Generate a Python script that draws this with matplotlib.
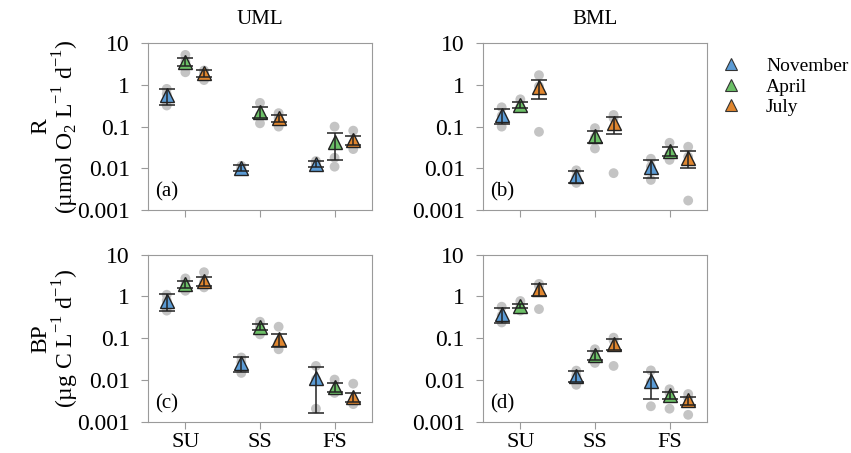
import matplotlib
matplotlib.use("Agg")
import matplotlib.pyplot as plt
import numpy as np
from matplotlib.lines import Line2D

plt.rcParams['font.family'] = 'serif'
plt.rcParams['font.serif'] = ['Liberation Serif', 'Times New Roman', 'DejaVu Serif']
plt.rcParams['mathtext.fontset'] = 'custom'
plt.rcParams['mathtext.rm'] = 'Liberation Serif'

sites = ["SU", "SS", "FS"]
months = ["November", "April", "July"]
colors = ["#5b9bd5", "#6cc067", "#e0862f"]

# rows = months (Nov, Apr, Jul), columns = sites (SU, SS, FS)
r_uml_mean = [[0.57, 0.0103, 0.013], [3.6, 0.226, 0.043], [1.88, 0.158, 0.049]]
r_uml_se = [[0.24, 0.0015, 0.002], [0.85, 0.065, 0.027], [0.37, 0.028, 0.012]]
r_uml_reps = [
    [[0.8, 0.6, 0.32], [0.0115, 0.010, 0.0092], [0.015, 0.013, 0.012]],
    [[5.2, 3.6, 2.0], [0.37, 0.19, 0.12], [0.10, 0.018, 0.011]],
    [[2.2, 1.9, 1.3], [0.21, 0.16, 0.10], [0.08, 0.04, 0.029]],
]

r_bml_mean = [[0.19, 0.0065, 0.011], [0.33, 0.059, 0.026], [0.9, 0.119, 0.018]]
r_bml_se = [[0.075, 0.002, 0.0052], [0.05, 0.019, 0.006], [0.43, 0.053, 0.008]]
r_bml_reps = [
    [[0.29, 0.18, 0.10], [0.009, 0.0062, 0.0045], [0.017, 0.011, 0.0053]],
    [[0.45, 0.30, 0.28], [0.092, 0.055, 0.03], [0.041, 0.022, 0.016]],
    [[1.7, 0.92, 0.075], [0.19, 0.16, 0.0077], [0.033, 0.019, 0.0017]],
]

bp_uml_mean = [[0.79, 0.0255, 0.0115], [1.99, 0.19, 0.0069], [2.29, 0.095, 0.0040]]
bp_uml_se = [[0.34, 0.01, 0.0098], [0.37, 0.035, 0.0016], [0.55, 0.033, 0.0009]]
bp_uml_reps = [
    [[1.1, 0.8, 0.46], [0.035, 0.027, 0.015], [0.022, 0.0105, 0.0021]],
    [[2.7, 1.9, 1.37], [0.25, 0.19, 0.125], [0.0104, 0.0055, 0.0050]],
    [[3.8, 2.2, 1.65], [0.19, 0.08, 0.055], [0.0083, 0.0030, 0.0027]],
]

bp_bml_mean = [[0.38, 0.0127, 0.0095], [0.6, 0.04, 0.0044], [1.5, 0.075, 0.0033]]
bp_bml_se = [[0.15, 0.0036, 0.006], [0.08, 0.009, 0.0008], [0.5, 0.021, 0.0007]]
bp_bml_reps = [
    [[0.57, 0.35, 0.24], [0.017, 0.013, 0.0078], [0.0172, 0.009, 0.0024]],
    [[0.78, 0.56, 0.46], [0.055, 0.04, 0.026], [0.0061, 0.005, 0.0021]],
    [[2.0, 1.8, 0.5], [0.104, 0.09, 0.022], [0.0047, 0.0038, 0.0015]],
]

y_ticks = [0.001, 0.01, 0.1, 1, 10]
y_tick_labels = ["0.001", "0.01", "0.1", "1", "10"]

offsets = [-0.25, 0.0, 0.25]
spine_gray = "#9a9a9a"


def draw_panel(ax, mean, se, reps, letter, show_xlabels):
    x = np.arange(len(sites))
    for m in range(len(months)):
        xm = x + offsets[m]
        # replicate dots behind
        for s in range(len(sites)):
            ax.scatter([xm[s]] * len(reps[m][s]), reps[m][s], s=50,
                       color="#c4c4c4", edgecolors="none", zorder=1)
        ax.plot(xm, mean[m], linestyle="none", marker="^", markersize=10,
                markerfacecolor=colors[m], markeredgecolor="#222222",
                markeredgewidth=1.0, zorder=3)
        ax.errorbar(xm, mean[m], yerr=se[m], fmt="none", ecolor="#222222",
                    elinewidth=1.1, capsize=6, capthick=1.1, zorder=4)

    ax.set_yscale("log")
    ax.set_ylim(0.001, 10)
    ax.set_yticks(y_ticks)
    ax.set_yticklabels(y_tick_labels)
    ax.minorticks_off()
    ax.set_xlim(-0.5, 2.5)
    ax.set_xticks(x)
    if show_xlabels:
        ax.set_xticklabels(sites)
    else:
        ax.set_xticklabels([])
    ax.tick_params(axis="y", labelsize=17, length=5, color=spine_gray, pad=8)
    ax.tick_params(axis="x", labelsize=16, length=5, color=spine_gray, pad=3)
    for sp in ax.spines.values():
        sp.set_color(spine_gray)
    ax.text(0.03, 0.05, letter, transform=ax.transAxes, fontsize=15,
            ha="left", va="bottom")


fig = plt.figure(figsize=(8.51, 4.53), dpi=100)

ax_a = fig.add_axes([0.174, 0.536, 0.263, 0.369])
ax_b = fig.add_axes([0.5676, 0.536, 0.263, 0.369])
ax_c = fig.add_axes([0.174, 0.068, 0.263, 0.370])
ax_d = fig.add_axes([0.5676, 0.068, 0.263, 0.370])

draw_panel(ax_a, r_uml_mean, r_uml_se, r_uml_reps, "(a)", False)
draw_panel(ax_b, r_bml_mean, r_bml_se, r_bml_reps, "(b)", False)
draw_panel(ax_c, bp_uml_mean, bp_uml_se, bp_uml_reps, "(c)", True)
draw_panel(ax_d, bp_bml_mean, bp_bml_se, bp_bml_reps, "(d)", True)

ax_a.set_title("UML", fontsize=15, pad=14)
ax_b.set_title("BML", fontsize=15, pad=14)

ax_a.set_ylabel("R\n(µmol O$_2$ L$^{-1}$ d$^{-1}$)", fontsize=17, labelpad=-3,
                linespacing=1.0)
ax_c.set_ylabel("BP\n(µg C L$^{-1}$ d$^{-1}$)", fontsize=17, labelpad=-3,
                linespacing=1.0)

# legend
handles = [Line2D([], [], linestyle="none", marker="^", markersize=9,
                  markerfacecolor=c, markeredgecolor="#333333",
                  markeredgewidth=0.8) for c in colors]
fig.legend(handles, months, loc="upper left", bbox_to_anchor=(0.827, 0.89),
           frameon=False, fontsize=14, handlelength=2.0, handletextpad=0.8,
           labelspacing=0.15, borderaxespad=0)

fig.savefig("out.png", dpi=100)
